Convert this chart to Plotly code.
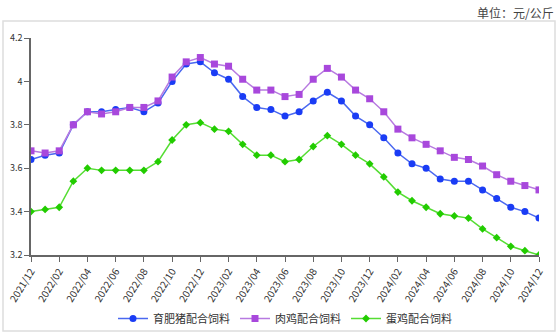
import plotly.graph_objects as go

months = ["2021/12"] + [f"2022/{m:02d}" for m in range(1, 13)] + \
         [f"2023/{m:02d}" for m in range(1, 13)] + [f"2024/{m:02d}" for m in range(1, 13)]

pig = [3.64, 3.66, 3.67, 3.80, 3.86, 3.86, 3.87, 3.88, 3.86, 3.90, 4.00, 4.08, 4.09,
       4.04, 4.01, 3.93, 3.88, 3.87, 3.84, 3.86, 3.91, 3.95, 3.91, 3.84, 3.80,
       3.74, 3.67, 3.62, 3.60, 3.55, 3.54, 3.54, 3.50, 3.46, 3.42, 3.40, 3.37]
broiler = [3.68, 3.67, 3.68, 3.80, 3.86, 3.85, 3.86, 3.88, 3.88, 3.91, 4.02, 4.09, 4.11,
           4.08, 4.07, 4.01, 3.96, 3.96, 3.93, 3.94, 4.01, 4.06, 4.02, 3.96, 3.92,
           3.86, 3.78, 3.74, 3.71, 3.68, 3.65, 3.64, 3.61, 3.57, 3.54, 3.52, 3.50]
layer = [3.40, 3.41, 3.42, 3.54, 3.60, 3.59, 3.59, 3.59, 3.59, 3.63, 3.73, 3.80, 3.81,
         3.78, 3.77, 3.71, 3.66, 3.66, 3.63, 3.64, 3.70, 3.75, 3.71, 3.66, 3.62,
         3.56, 3.49, 3.45, 3.42, 3.39, 3.38, 3.37, 3.32, 3.28, 3.24, 3.22, 3.20]

names = ["育肥猪配合饲料", "肉鸡配合饲料", "蛋鸡配合饲料"]
tick_labels = months[::2]

W, H = 559, 334
L, R, T, B = 31, 20, 38, 79
pw, ph = W - L - R, H - T - B

def px(x):
    return (x - L) / pw

def py(y):
    return (H - B - y) / ph

fig = go.Figure()
fig.add_trace(go.Scatter(x=months, y=pig, name=names[0], mode="lines+markers",
                         line=dict(color="#4a68f0", width=1.5),
                         marker=dict(symbol="circle", size=7, color="#1a3cf5")))
fig.add_trace(go.Scatter(x=months, y=broiler, name=names[1], mode="lines+markers",
                         line=dict(color="#b77ae0", width=1.5),
                         marker=dict(symbol="square", size=7, color="#a848dc")))
fig.add_trace(go.Scatter(x=months, y=layer, name=names[2], mode="lines+markers",
                         line=dict(color="#55dd33", width=1.5),
                         marker=dict(symbol="diamond", size=6, color="#22cc00")))

fig.add_shape(type="rect", xref="paper", yref="paper",
              x0=px(3), x1=px(555), y0=py(331), y1=py(21),
              line=dict(color="#dddddd", width=1.5), layer="below")

fig.add_annotation(text="单位：元/公斤", xref="paper", yref="paper",
                   x=px(556), y=py(2), xanchor="right", yanchor="top",
                   showarrow=False, font=dict(size=12, color="#444"))

fig.update_layout(
    width=W, height=H,
    margin=dict(l=L, r=R, t=T, b=B, autoexpand=False),
    paper_bgcolor="white", plot_bgcolor="white",
    font=dict(family="Noto Sans CJK SC, Noto Sans, sans-serif", color="#333"),
    showlegend=True,
    legend=dict(orientation="h", x=0.5, xanchor="center", y=py(304), yanchor="top",
                font=dict(size=11, color="#333"), itemwidth=30, bgcolor="rgba(0,0,0,0)"),
    xaxis=dict(type="category", range=[0, len(months) - 1], tickmode="array",
               tickvals=tick_labels, ticktext=tick_labels, tickangle=-58,
               showgrid=False, showline=True, linecolor="#666", linewidth=1.5,
               ticks="outside", ticklen=5, tickcolor="#666", automargin=False,
               tickfont=dict(size=10, color="#333")),
    yaxis=dict(range=[3.2, 4.2], dtick=0.2, showgrid=False, showline=True,
               linecolor="#666", linewidth=1.5, ticks="outside", ticklen=5,
               tickcolor="#666", zeroline=False, automargin=False,
               tickfont=dict(size=9, color="#333")),
)

fig.write_html("out.html")
